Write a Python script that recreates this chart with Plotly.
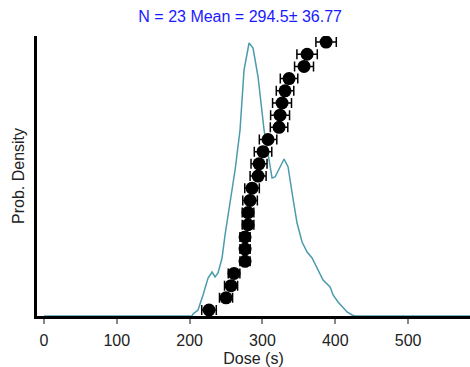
import plotly.graph_objects as go

# Individual doses (s), sorted ascending, with their uncertainties
doses = [226.6, 250.0, 256.9, 261.0, 276.1, 276.1, 276.1, 280.2, 280.2, 283.0,
         285.7, 294.0, 295.3, 300.8, 307.7, 322.8, 324.2, 326.9, 331.0, 336.5,
         357.1, 361.3, 387.4]
dose_err = [10, 9, 9, 8, 7, 7, 7, 8, 8, 10,
            10, 11, 11, 12, 12, 12, 13, 13, 12, 12,
            13, 14, 14]
ranks = list(range(1, len(doses) + 1))

# Probability density curve (x in s, density in 1e-3 / s)
pd_x = [0, 203.3, 204.7, 211.5, 218.4, 225.3, 230.8, 234.9, 239.0, 244.5,
        248.6, 252.7, 262.4, 269.2, 274.7, 281.6, 287.1, 294.0, 302.2, 313.2,
        317.3, 329.7, 335.2, 340.7, 347.5, 354.4, 361.3, 368.1, 375.0, 383.2,
        392.9, 397.0, 403.8, 410.7, 416.2, 423.1, 427.2, 590]
pd_y = [0, 0, 0.10, 0.30, 1.05, 1.90, 2.20, 1.95, 2.15, 2.90,
        4.05, 5.05, 7.30, 9.30, 12.30, 13.65, 13.40, 11.95, 9.30, 6.90,
        6.95, 7.85, 7.45, 6.15, 4.65, 3.70, 3.20, 2.90, 2.40, 1.80,
        1.45, 1.05, 0.70, 0.40, 0.20, 0.05, 0, 0]

title_text = "N = 23 Mean = 294.5\u00b1 36.77"
x_ticks = [0, 100, 200, 300, 400, 500]

fig = go.Figure()

fig.add_trace(go.Scatter(
    x=pd_x, y=pd_y, mode="lines",
    line=dict(color="#4a9bab", width=1.5),
    showlegend=False, hoverinfo="skip",
))

fig.add_trace(go.Scatter(
    x=doses, y=ranks, mode="markers", yaxis="y2",
    marker=dict(color="black", size=13, line=dict(width=0)),
    error_x=dict(type="data", array=dose_err, visible=True,
                 color="black", thickness=1.5, width=5),
    showlegend=False,
))

font_family = "Liberation Sans, Arial, sans-serif"

fig.update_layout(
    width=470, height=367,
    margin=dict(l=37, r=0, t=36, b=51),
    paper_bgcolor="white", plot_bgcolor="white",
    font=dict(family=font_family, size=16, color="#222222"),
    title=dict(text=title_text, x=0.511, xref="container", xanchor="center",
               y=1 - 16 / 367, yref="container", yanchor="middle",
               font=dict(family=font_family, size=16, color="#1a1aff")),
    xaxis=dict(
        range=[-9.6, 585], tickvals=x_ticks, ticktext=[str(t) for t in x_ticks],
        showgrid=False, zeroline=False,
        showline=True, linecolor="black", linewidth=3,
        ticks="outside", ticklen=5, tickwidth=1.5, tickcolor="#888888",
        ticklabelstandoff=3,
        tickfont=dict(size=16, color="#222222"),
        title=dict(text="Dose (s)", font=dict(size=16, color="#222222"), standoff=5),
    ),
    yaxis=dict(
        range=[0, 14.0], showgrid=False, zeroline=False,
        showline=True, linecolor="black", linewidth=3,
        showticklabels=False, ticks="",
        title=dict(text="Prob. Density", font=dict(size=16, color="#222222"), standoff=6),
    ),
    yaxis2=dict(
        range=[0.507, 23.5], overlaying="y", side="left",
        showgrid=False, zeroline=False, showline=False,
        showticklabels=False, ticks="",
    ),
)

fig.write_html(
    "out.html",
    config={"displayModeBar": False},
    post_script="document.body.style.margin='0';document.body.style.overflow='hidden';",
)
